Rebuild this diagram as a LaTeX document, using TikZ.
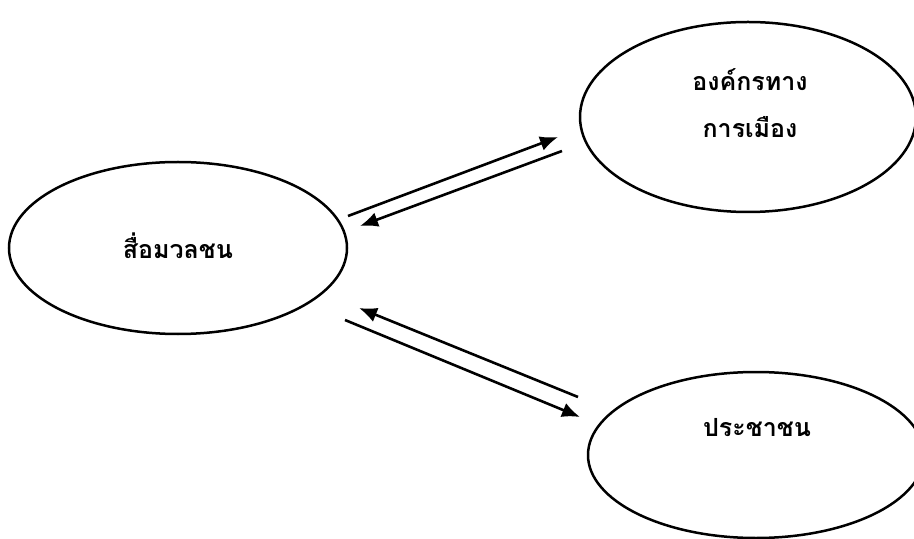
\documentclass[tikz,border=0pt]{standalone}
\usepackage{fontspec}
\newfontfamily\thaifont[Script=Thai]{Loma}
\usepackage{tikz}
\usetikzlibrary{arrows.meta,shapes.geometric}

\begin{document}
\begin{tikzpicture}[x=0.5pt,y=-0.5pt]
\tikzstyle{group}=[ellipse,draw=black,line width=1.25pt,inner sep=0pt]
\tikzstyle{label}=[font=\thaifont\bfseries\fontsize{12.5}{23.5}\selectfont,align=center]
\tikzstyle{link}=[line width=1.3pt,-{Latex[length=9pt,width=7.5pt]}]
\useasboundingbox (0,0) rectangle (914,539);
\node[group,minimum width=169pt,minimum height=86pt] (1) at (178,248) {};
\node[group,minimum width=168pt,minimum height=95pt] (2) at (748,117) {};
\node[group,minimum width=168pt,minimum height=83pt] (3) at (756,455) {};
\node[label] (t1) at (178,246) {สื่อมวลชน};
\node[label] (t2) at (750,103) {องค์กรทาง\\การเมือง};
\node[label] (t3) at (757,428) {ประชาชน};
\coordinate (a1) at (348,216);
\coordinate (a2) at (558,137);
\coordinate (b1) at (562,151);
\coordinate (b2) at (360,226);
\coordinate (c1) at (578,397);
\coordinate (c2) at (359,308);
\coordinate (d1) at (345,320);
\coordinate (d2) at (580,417);
\draw[link] (a1) -- (a2);
\draw[link] (b1) -- (b2);
\draw[link] (c1) -- (c2);
\draw[link] (d1) -- (d2);
\end{tikzpicture}
\end{document}
